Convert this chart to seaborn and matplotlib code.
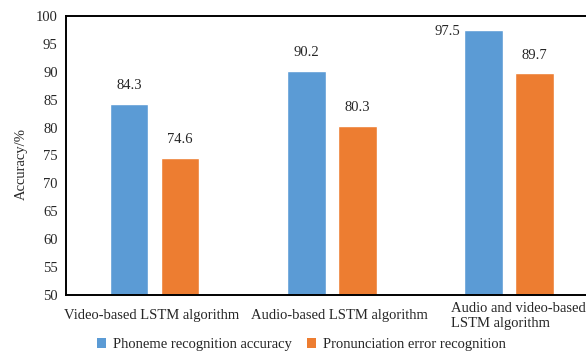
import matplotlib
matplotlib.use("Agg")
import matplotlib.pyplot as plt
import matplotlib.transforms as mtransforms
import seaborn as sns
import pandas as pd
from matplotlib.ticker import FixedLocator, MultipleLocator
from matplotlib.patches import Patch

categories = ["Video-based LSTM algorithm", "Audio-based LSTM algorithm",
              "Audio and video-based\nLSTM algorithm"]
series_names = ["Phoneme recognition accuracy", "Pronunciation error recognition"]
phoneme_acc = [84.3, 90.2, 97.5]
pron_err = [74.6, 80.3, 89.7]
colors = ["#5B9BD5", "#ED7D31"]

df = pd.DataFrame({
    "algorithm": categories * 2,
    "metric": [series_names[0]] * 3 + [series_names[1]] * 3,
    "value": phoneme_acc + pron_err,
})

sns.set_style("white")
plt.rcParams["font.family"] = ["Liberation Serif", "DejaVu Serif"]
fs = 10.5
plt.rcParams["font.size"] = fs

fig = plt.figure(figsize=(5.86, 3.53), dpi=100)
ax = fig.add_axes([66 / 586, 1 - 295 / 353, (597.5 - 66) / 586, (295 - 16) / 353])

sns.barplot(data=df, x="algorithm", y="value", hue="metric", order=categories,
            hue_order=series_names, palette=colors, width=0.576, gap=0.24,
            saturation=1, ax=ax, legend=False)

ax.set_xlim(-0.5, 2.5)
ax.set_ylim(50, 100)
ax.yaxis.set_major_locator(MultipleLocator(5))
ax.set_xlabel("")
ax.set_ylabel("Accuracy/%", fontsize=fs)
ax.yaxis.set_label_coords(-0.0715, 0.471)

for s in ["left", "bottom", "top", "right"]:
    ax.spines[s].set_color("black")
    ax.spines[s].set_linewidth(1.4)
ax.spines["right"].set_visible(False)

ax.tick_params(axis="y", direction="in", length=5, width=1, labelsize=fs, pad=6)
ax.tick_params(axis="x", which="major", length=0, labelsize=fs, pad=15)
ax.xaxis.set_minor_locator(FixedLocator([0.5, 1.5]))
ax.tick_params(axis="x", which="minor", direction="in", length=5, width=1)

# small horizontal nudges (pixels) for the category labels
nudges = [-2.5, 7.5, 9.5]
for lbl, dx in zip(ax.get_xticklabels(), nudges):
    lbl.set_verticalalignment("center")
    if "\n" in lbl.get_text():
        lbl.set_multialignment("left")
        lbl.set_linespacing(1.2)
    shift = mtransforms.ScaledTranslation(dx / 100, 0, fig.dpi_scale_trans)
    lbl.set_transform(lbl.get_transform() + shift)

# value labels above each bar
for container, vals in zip(ax.containers, [phoneme_acc, pron_err]):
    for bar, v in zip(container.patches, vals):
        cx = bar.get_x() + bar.get_width() / 2
        if v > 96:
            ax.annotate(f"{v}", xy=(bar.get_x(), v), xytext=(-3, -1),
                        textcoords="offset points", ha="right", va="center",
                        fontsize=fs)
        else:
            ax.annotate(f"{v}", xy=(cx, v), xytext=(0, 13),
                        textcoords="offset points", ha="center", va="center",
                        fontsize=fs)

handles = [Patch(facecolor=c, edgecolor="none") for c in colors]
fig.legend(handles, series_names, loc="center", bbox_to_anchor=(0.5145, 0.024),
           ncol=2, frameon=False, fontsize=fs, handlelength=0.6, handleheight=0.6,
           handletextpad=0.5, columnspacing=1.0, borderaxespad=0, borderpad=0)

fig.savefig("out.png", dpi=100)
